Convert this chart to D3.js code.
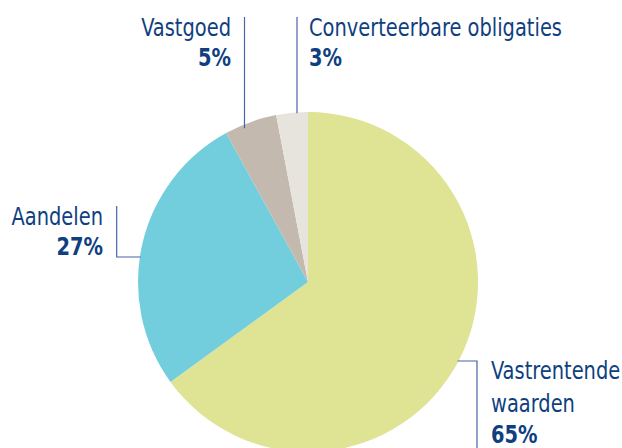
<!DOCTYPE html>
<html><head><meta charset="utf-8">
<script src="https://cdn.jsdelivr.net/npm/d3@7"></script>
<style>
html,body{margin:0;padding:0;background:#fff;}
svg{display:block;}
text{font-family:"DejaVu Sans Condensed","Liberation Sans Narrow",sans-serif;font-size:24px;fill:#0f3f7f;}
.pct{font-weight:bold;}
</style></head><body>
<svg id="c" width="622" height="448"></svg>
<script>
const categories = ["Vastrentende waarden", "Aandelen", "Vastgoed", "Converteerbare obligaties"];
const labelLines = [["Vastrentende", "waarden"], ["Aandelen"], ["Vastgoed"], ["Converteerbare obligaties"]];
const values = [65, 27, 5, 3];
const colors = ["#dfe394", "#72cedd", "#c3b9ae", "#e7e4de"];

const svg = d3.select("#c");
const cx = 308, cy = 282, r = 170;
const g = svg.append("g").attr("transform", `translate(${cx},${cy})`);

const pie = d3.pie().sort(null).value(d => d)(values);
const arc = d3.arc().innerRadius(0).outerRadius(r);
g.selectAll("path").data(pie).join("path")
  .attr("d", arc).attr("fill", (d, i) => colors[i]);

function rimAtX(x, top) { const dy = Math.sqrt(r * r - (x - cx) ** 2); return top ? cy - dy : cy + dy; }
function rimAtY(y, right) { const dx = Math.sqrt(r * r - (y - cy) ** 2); return right ? cx + dx : cx - dx; }

const lineColor = "#4a63a6";
const L = svg.append("g").attr("fill", "none").attr("stroke", lineColor).attr("stroke-width", 1.2);
const sx = 0.9;
function label(x, y, str, anchor, cls) {
  svg.append("text").attr("class", cls || null).attr("text-anchor", anchor)
    .attr("transform", `translate(${x},${y}) scale(${sx},1)`).text(str);
}

// Vastgoed
L.append("path").attr("d", `M244.5,17 V${rimAtX(244.5, true) + 4}`);
label(231, 36, labelLines[2][0], "end");
label(231, 66, values[2] + "%", "end", "pct");

// Converteerbare obligaties
L.append("path").attr("d", `M297,17 V${rimAtX(297, true) + 1}`);
label(309, 36, labelLines[3][0], "start");
label(309, 66, values[3] + "%", "start", "pct");

// Aandelen
L.append("path").attr("d", `M116.7,206 V257 H${rimAtY(257, false) + 1}`);
label(103, 225, labelLines[1][0], "end");
label(103, 255, values[1] + "%", "end", "pct");

// Vastrentende waarden
L.append("path").attr("d", `M${rimAtY(361, true) - 1},361 H477 V448`);
label(491, 379, labelLines[0][0], "start");
label(491, 411.5, labelLines[0][1], "start");
label(491, 443, values[0] + "%", "start", "pct");
</script>
</body></html>
